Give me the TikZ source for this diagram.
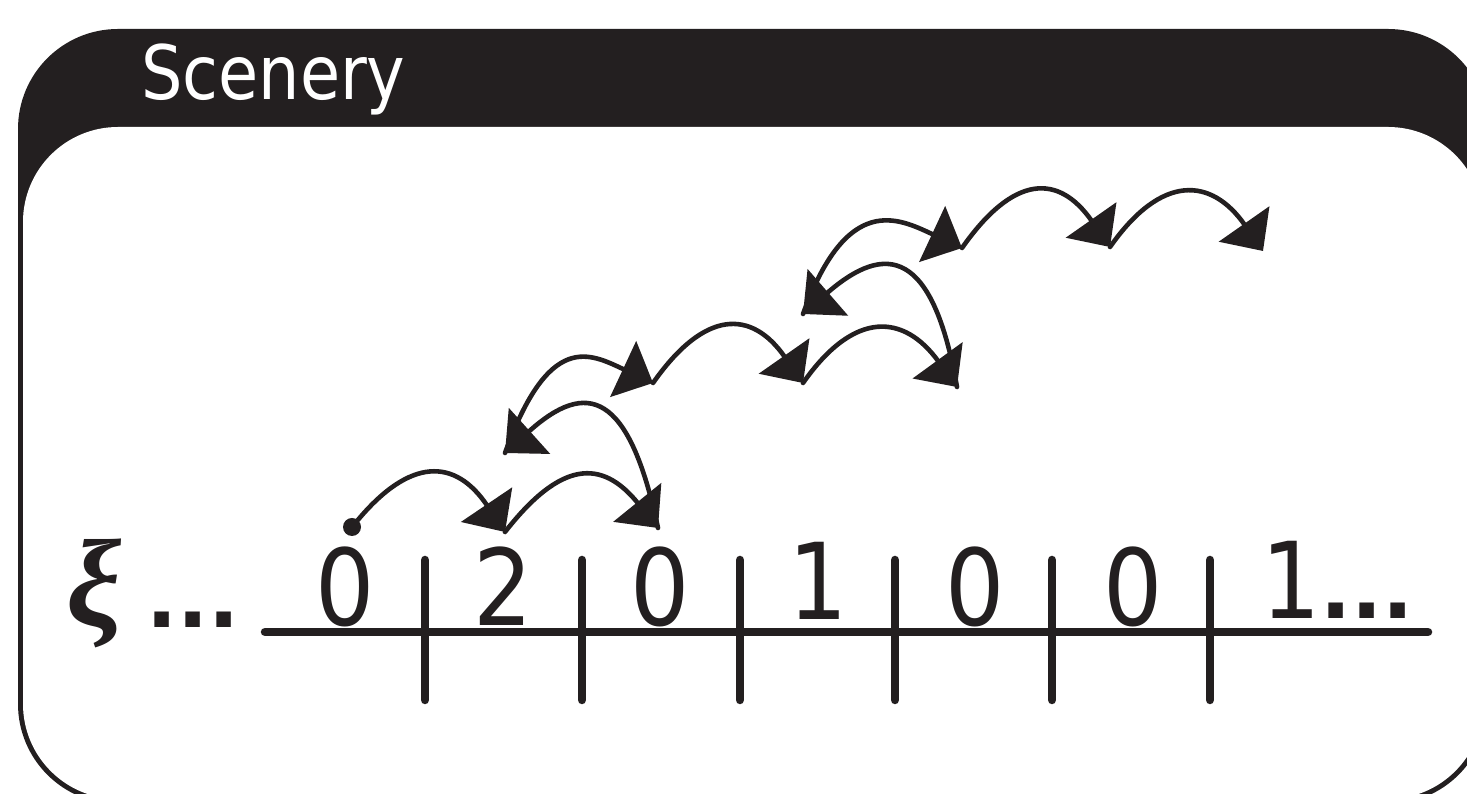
\documentclass[tikz,border=0pt]{standalone}
\usepackage{fontspec}
\usetikzlibrary{arrows.meta}
\newfontfamily\titlefont[FakeStretch=0.87]{DejaVu Sans}
\newfontfamily\cellfont[FakeStretch=0.88]{DejaVu Sans}
\newfontfamily\dotfont{DejaVu Sans Bold}
\newfontfamily\greekfont{Liberation Serif}
\definecolor{ink}{HTML}{231F20}

\begin{document}
\begin{tikzpicture}[x=1pt, y=1pt, line cap=round, title/.style={anchor=base west, inner sep=0pt, text=white, font=\titlefont\fontsize{75}{80}\selectfont}, digit/.style={anchor=base, inner sep=0pt, text=ink, font=\cellfont\fontsize{106}{110}\selectfont}, ellips/.style={anchor=base west, inner sep=0pt, text=ink, font=\dotfont\fontsize{82}{90}\selectfont}, hop/.style={draw=ink, line width=4.6pt, -{Triangle[length=33pt, width=61pt]}}, cut/.style={draw=ink, line width=8.5pt}]
\useasboundingbox (0,0) rectangle (1467,794);
\clip (0,0) rectangle (1467,794);
% frame with title bar
\fill[ink, rounded corners=100pt] (18,-10) rectangle (1488,765);
\fill[white, rounded corners=95pt] (23,-5) rectangle (1483,667);
\node[title] (title) at (141,694) {Scenery};
% the line of cells
\draw[cut] (265,162) -- (1428,162);
\foreach \x in {425,582,740,895,1052,1210} \draw[cut] (\x,234) -- (\x,94);
\node[anchor=base west, inner sep=0pt, text=ink, font=\greekfont\bfseries\itshape\fontsize{124}{130}\selectfont] (xi) at (66,168) {ξ};
\node[ellips] (lead) at (146,166) {...};
\node[digit] (c1) at (345,168) {0};
\node[digit] (c2) at (503,168) {2};
\node[digit] (c3) at (660,168) {0};
\node[digit] (c4) at (818,174) {1};
\node[digit] (c5) at (975,168) {0};
\node[digit] (c6) at (1133,168) {0};
\node[digit, anchor=base west] (c7) at (1261,175) {1{\dotfont\fontsize{82}{90}\selectfont...}};
% the walk
\node[circle, fill=ink, inner sep=0pt, minimum size=18pt] (s0) at (352,267) {};
\coordinate (r1a) at (505,262); \coordinate (r1b) at (658,266);
\coordinate (r2s) at (505,341); \coordinate (r2a) at (653,411); \coordinate (r2b) at (803,411); \coordinate (r2c) at (957,407);
\coordinate (r3s) at (803,480); \coordinate (r3a) at (962,546); \coordinate (r3b) at (1110,547); \coordinate (r3c) at (1263,543);
\draw[hop] (s0) .. controls +(50:90) and +(124:90) .. (r1a);
\draw[hop] (r1a) .. controls +(52:90) and +(129:90) .. (r1b);
\draw[hop] (r1b) .. controls +(102:140) and +(42:110) .. (r2s);
\draw[hop] (r2s) .. controls +(70:130) and +(155:70) .. (r2a);
\draw[hop] (r2a) .. controls +(55:90) and +(125:90) .. (r2b);
\draw[hop] (r2b) .. controls +(55:90) and +(126:90) .. (r2c);
\draw[hop] (r2c) .. controls +(100:140) and +(41:110) .. (r3s);
\draw[hop] (r3s) .. controls +(70:130) and +(155:70) .. (r3a);
\draw[hop] (r3a) .. controls +(55:90) and +(125:90) .. (r3b);
\draw[hop] (r3b) .. controls +(55:90) and +(125:90) .. (r3c);
\end{tikzpicture}
\end{document}
